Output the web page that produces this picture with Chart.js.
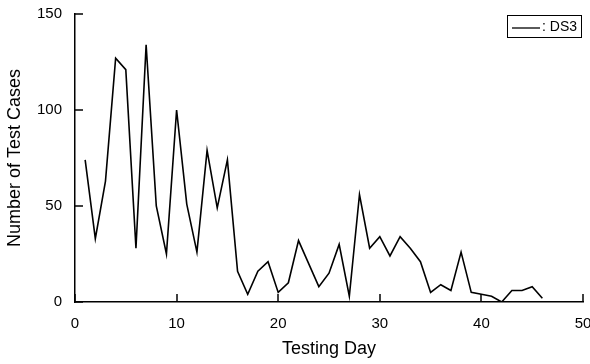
<!DOCTYPE html>
<html>
<head>
<meta charset="utf-8">
<script src="https://cdn.jsdelivr.net/npm/chart.js@4.4.0/dist/chart.umd.min.js"></script>
<style>
  html, body { margin: 0; padding: 0; background: #fff; }
  #wrap { width: 590px; height: 364px; }
</style>
</head>
<body>
<div id="wrap"><canvas id="c" width="590" height="364"></canvas></div>
<script>
const days = [1,2,3,4,5,6,7,8,9,10,11,12,13,14,15,16,17,18,19,20,21,22,23,24,25,26,27,28,29,30,31,32,33,34,35,36,37,38,39,40,41,42,43,44,45,46];
const ds3 = [74,33,63,127,121,28,134,50,25,100,51,26,79,49,74,16,4,16,21,5,10,32,20,8,15,30,3,56,28,34,24,34,28,21,5,9,6,26,5,4,3,0,6,6,8,2];
const xTicks = [0,10,20,30,40,50];
const yTicks = [0,50,100,150];
const seriesName = ': DS3';
const xTitle = 'Testing Day';
const yTitle = 'Number of Test Cases';

const FONT = '"Liberation Sans", Arial, sans-serif';

const innerTicks = {
  id: 'innerTicks',
  afterDraw(chart) {
    const ctx = chart.ctx;
    const xs = chart.scales.x, ys = chart.scales.y;
    const a = chart.chartArea;
    ctx.save();
    ctx.strokeStyle = '#000';
    ctx.lineWidth = 1.5;
    xTicks.forEach(v => {
      const px = Math.round(xs.getPixelForValue(v));
      ctx.beginPath(); ctx.moveTo(px, a.bottom); ctx.lineTo(px, a.bottom - 8); ctx.stroke();
    });
    yTicks.forEach(v => {
      const py = Math.round(ys.getPixelForValue(v));
      ctx.beginPath(); ctx.moveTo(a.left, py); ctx.lineTo(a.left + 8, py); ctx.stroke();
    });
    // legend box
    const lx = 507, ly = 15, lw = 74, lh = 22;
    ctx.lineWidth = 1;
    ctx.strokeRect(lx + 0.5, ly + 0.5, lw, lh);
    ctx.lineWidth = 1.3;
    ctx.beginPath(); ctx.moveTo(lx + 5, ly + 13); ctx.lineTo(lx + 33, ly + 13); ctx.stroke();
    ctx.fillStyle = '#000';
    ctx.font = '14px ' + FONT;
    ctx.textBaseline = 'middle';
    ctx.textAlign = 'left';
    ctx.fillText(seriesName, lx + 35, ly + 12);
    ctx.restore();
  }
};

new Chart(document.getElementById('c'), {
  type: 'line',
  data: {
    datasets: [{
      label: seriesName,
      data: days.map((d, i) => ({x: d, y: ds3[i]})),
      borderColor: '#000',
      borderWidth: 1.6,
      pointRadius: 0,
      tension: 0,
      fill: false
    }]
  },
  options: {
    responsive: false,
    animation: false,
    devicePixelRatio: 1,
    layout: { padding: { top: 14, right: 7, left: 0, bottom: 0 } },
    plugins: { legend: { display: false }, tooltip: { enabled: false } },
    scales: {
      x: {
        type: 'linear',
        min: 0, max: 50,
        afterBuildTicks: s => { s.ticks = xTicks.map(v => ({value: v})); },
        afterFit: s => { s.height = 62; s.paddingLeft = 0; s.paddingRight = 0; },
        grid: { display: false, drawTicks: false },
        border: { display: true, color: '#000', width: 1.5 },
        ticks: { color: '#000', font: { family: FONT, size: 15 }, padding: 13, maxRotation: 0 },
        title: { display: true, text: xTitle, color: '#000', font: { family: FONT, size: 18 }, padding: { top: 3 } }
      },
      y: {
        type: 'linear',
        min: 0, max: 150,
        afterBuildTicks: s => { s.ticks = yTicks.map(v => ({value: v})); },
        afterFit: s => { s.width = 75; s.paddingTop = 0; s.paddingBottom = 0; },
        grid: { display: false, drawTicks: false },
        border: { display: true, color: '#000', width: 1.5 },
        ticks: { color: '#000', font: { family: FONT, size: 15 }, padding: 13 },
        title: { display: true, text: yTitle, color: '#000', font: { family: FONT, size: 18 }, padding: { top: 4, bottom: 0 } }
      }
    }
  },
  plugins: [innerTicks]
});
</script>
</body>
</html>
